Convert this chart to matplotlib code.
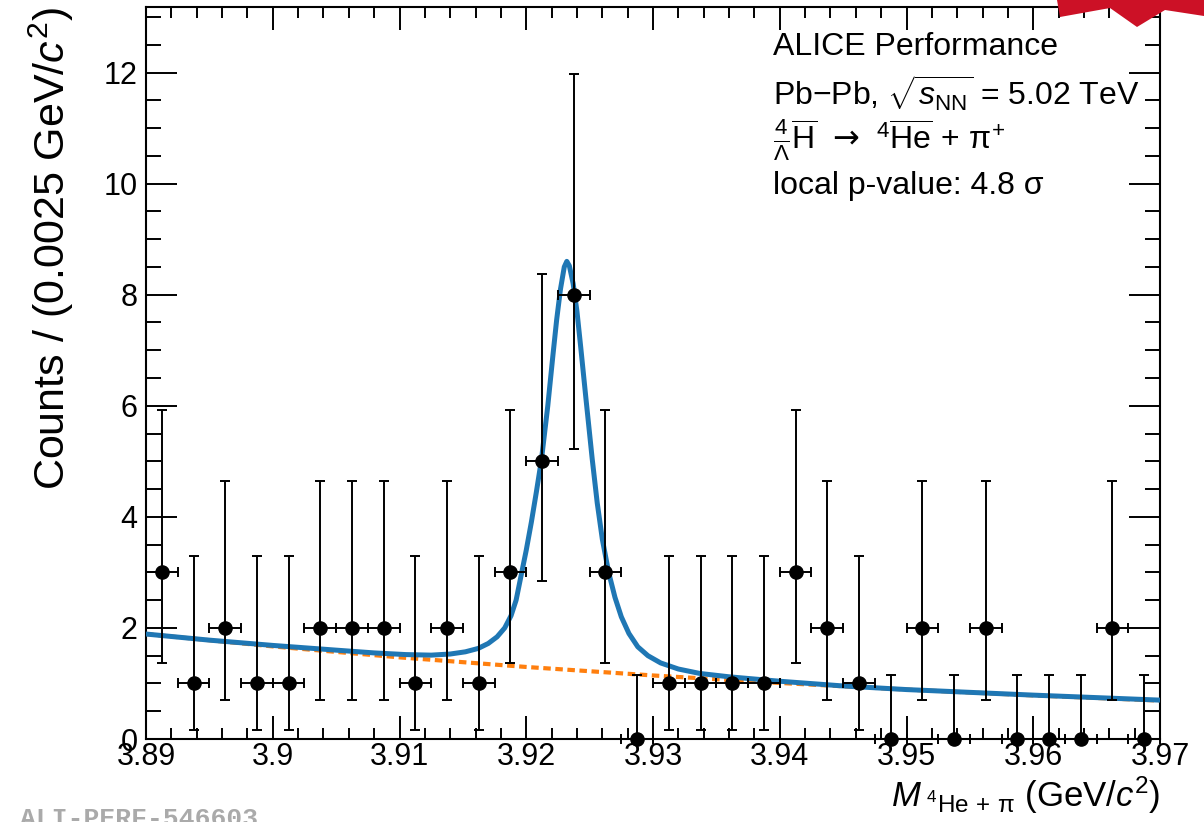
import matplotlib
matplotlib.use("Agg")
import matplotlib.pyplot as plt
from matplotlib.patches import Polygon
from matplotlib.ticker import MultipleLocator
import numpy as np

plt.rcParams['font.family'] = ['Liberation Sans', 'DejaVu Sans']
plt.rcParams['mathtext.fontset'] = 'custom'
plt.rcParams['mathtext.rm'] = 'Liberation Sans'
plt.rcParams['mathtext.it'] = 'Liberation Sans:italic'
plt.rcParams['mathtext.bf'] = 'Liberation Sans:bold'
plt.rcParams['mathtext.sf'] = 'DejaVu Sans'

# histogram: 32 bins of 0.0025 GeV/c2 from 3.89 to 3.97
bin_lo = 3.89
bin_width = 0.0025
counts = [3, 1, 2, 1, 1, 2, 2, 2, 1, 2, 1, 3, 5, 8, 3, 0,
          1, 1, 1, 1, 3, 2, 1, 0, 2, 0, 2, 0, 0, 0, 2, 0]

# poisson intervals (lower / upper edge) per count value
pois_lo = {0: 0.0, 1: 0.17, 2: 0.71, 3: 1.37, 5: 2.84, 8: 5.23}
pois_hi = {0: 1.15, 1: 3.30, 2: 4.64, 3: 5.92, 5: 8.38, 8: 11.98}

# fit curve (signal + background)
fit_x = [3.8900, 3.8950, 3.9000, 3.9050, 3.9080, 3.9105, 3.9125, 3.9140,
         3.9152, 3.9162, 3.9170, 3.9177, 3.9183, 3.9188, 3.9192, 3.9196,
         3.9200, 3.9204, 3.9208, 3.9212, 3.9217, 3.9221, 3.9224, 3.9227,
         3.9230, 3.9232, 3.9234, 3.9237, 3.9240, 3.9243, 3.9247, 3.9252,
         3.9256, 3.9260, 3.9265, 3.9270, 3.9275, 3.9281, 3.9288, 3.9296,
         3.9306, 3.9320, 3.9337, 3.9360, 3.9400, 3.9450, 3.9500, 3.9550,
         3.9600, 3.9650, 3.9700]
fit_y = [1.89, 1.78, 1.685, 1.60, 1.55, 1.52, 1.51, 1.53,
         1.57, 1.63, 1.72, 1.84, 2.00, 2.22, 2.50, 2.95,
         3.40, 3.90, 4.45, 5.03, 6.00, 6.90, 7.55, 8.10,
         8.50, 8.60, 8.52, 8.20, 7.70, 7.05, 6.15, 5.05,
         4.25, 3.60, 3.00, 2.55, 2.20, 1.90, 1.66, 1.50,
         1.37, 1.26, 1.18, 1.12, 1.04, 0.955, 0.89, 0.84,
         0.79, 0.745, 0.70]

# background component only
bkg_x = [3.89, 3.90, 3.91, 3.92, 3.93, 3.94, 3.95, 3.96, 3.97]
bkg_y = [1.89, 1.667, 1.47, 1.297, 1.144, 1.009, 0.89, 0.785, 0.692]

xticks = [3.89, 3.90, 3.91, 3.92, 3.93, 3.94, 3.95, 3.96, 3.97]
xtick_labels = ["3.89", "3.9", "3.91", "3.92", "3.93", "3.94", "3.95", "3.96", "3.97"]
yticks = [0, 2, 4, 6, 8, 10, 12]

centers = bin_lo + bin_width * (np.arange(len(counts)) + 0.5)
n = np.array(counts, dtype=float)
err_lo = np.array([c - pois_lo[c] for c in counts])
err_hi = np.array([pois_hi[c] - c for c in counts])

fig = plt.figure(figsize=(12.04, 8.22), dpi=100)
ax = fig.add_axes([146 / 1204, 1 - 739 / 822, (1160 - 146) / 1204, (739 - 7) / 822])

ax.plot(bkg_x, bkg_y, color='#ff7f0e', lw=3.0, dashes=(1.8, 1.1), zorder=2)
ax.plot(fit_x, fit_y, color='#1f77b4', lw=3.6, zorder=3,
        solid_joinstyle='round')
ax.errorbar(centers, n, yerr=[err_lo, err_hi], xerr=bin_width / 2,
            fmt='o', color='black', ms=9.5, elinewidth=1.4, capsize=3.5,
            capthick=1.4, zorder=4, clip_on=False)

ax.set_xlim(3.89, 3.97)
ax.set_ylim(0, 13.18)
ax.set_xticks(xticks)
ax.set_xticklabels(xtick_labels)
ax.set_yticks(yticks)
ax.xaxis.set_minor_locator(MultipleLocator(0.002))
ax.yaxis.set_minor_locator(MultipleLocator(0.5))

ax.tick_params(which='both', direction='in', top=True, right=True, width=1.4,
               labelsize=22)
ax.tick_params(axis='x', which='major', length=16.5, pad=2)
ax.tick_params(axis='x', which='minor', length=8)
ax.tick_params(axis='y', which='major', length=22, pad=6)
ax.tick_params(axis='y', which='minor', length=11)
for sp in ax.spines.values():
    sp.set_linewidth(1.5)

ax.set_ylabel(r'Counts / (0.0025 GeV/$c^{2}$)', fontsize=31, loc='top', labelpad=20)
ax.set_xlabel(r'$M_{\ {}^{4}\mathrm{He}\,+\,\mathrm{\pi}}$ (GeV/$c^{2}$)', fontsize=25,
              loc='right', labelpad=2)

# text block in the upper right
tx = (773 - 146) / (1160 - 146)
lines = ['ALICE Performance',
         r'Pb$-$Pb, $\sqrt{s_{\mathrm{NN}}}$ = 5.02 TeV',
         r'$\frac{4}{\Lambda}\overline{\mathrm{H}}\ \ \mathsf{→}\ \;{}^{4}\overline{\mathrm{He}}\,+\,\mathrm{\pi}^{+}$',
         'local p-value: 4.8 σ']
ys = [47, 93, 140, 186]
for s, yp in zip(lines, ys):
    ax.text(tx, (739 - yp) / 732, s, transform=ax.transAxes, fontsize=23,
            ha='left', va='center')

# watermark, cut off at the bottom edge
fig.text(20 / 1204, 1 - 807 / 822, 'ALI-PERF-546603', family='Liberation Mono',
         weight='bold', fontsize=19, color='#aaaaaa', ha='left', va='top')

# partial red logo in the top right corner
pts = [(1057, 0), (1060, 17), (1110, 8), (1137, 27), (1165, 10), (1204, 16), (1204, 0)]
logo = Polygon([(px / 1204, 1 - py / 822) for px, py in pts], closed=True,
               transform=fig.transFigure, facecolor='#cc1126', edgecolor='none')
fig.patches.append(logo)

fig.savefig('out.png', dpi=100)
